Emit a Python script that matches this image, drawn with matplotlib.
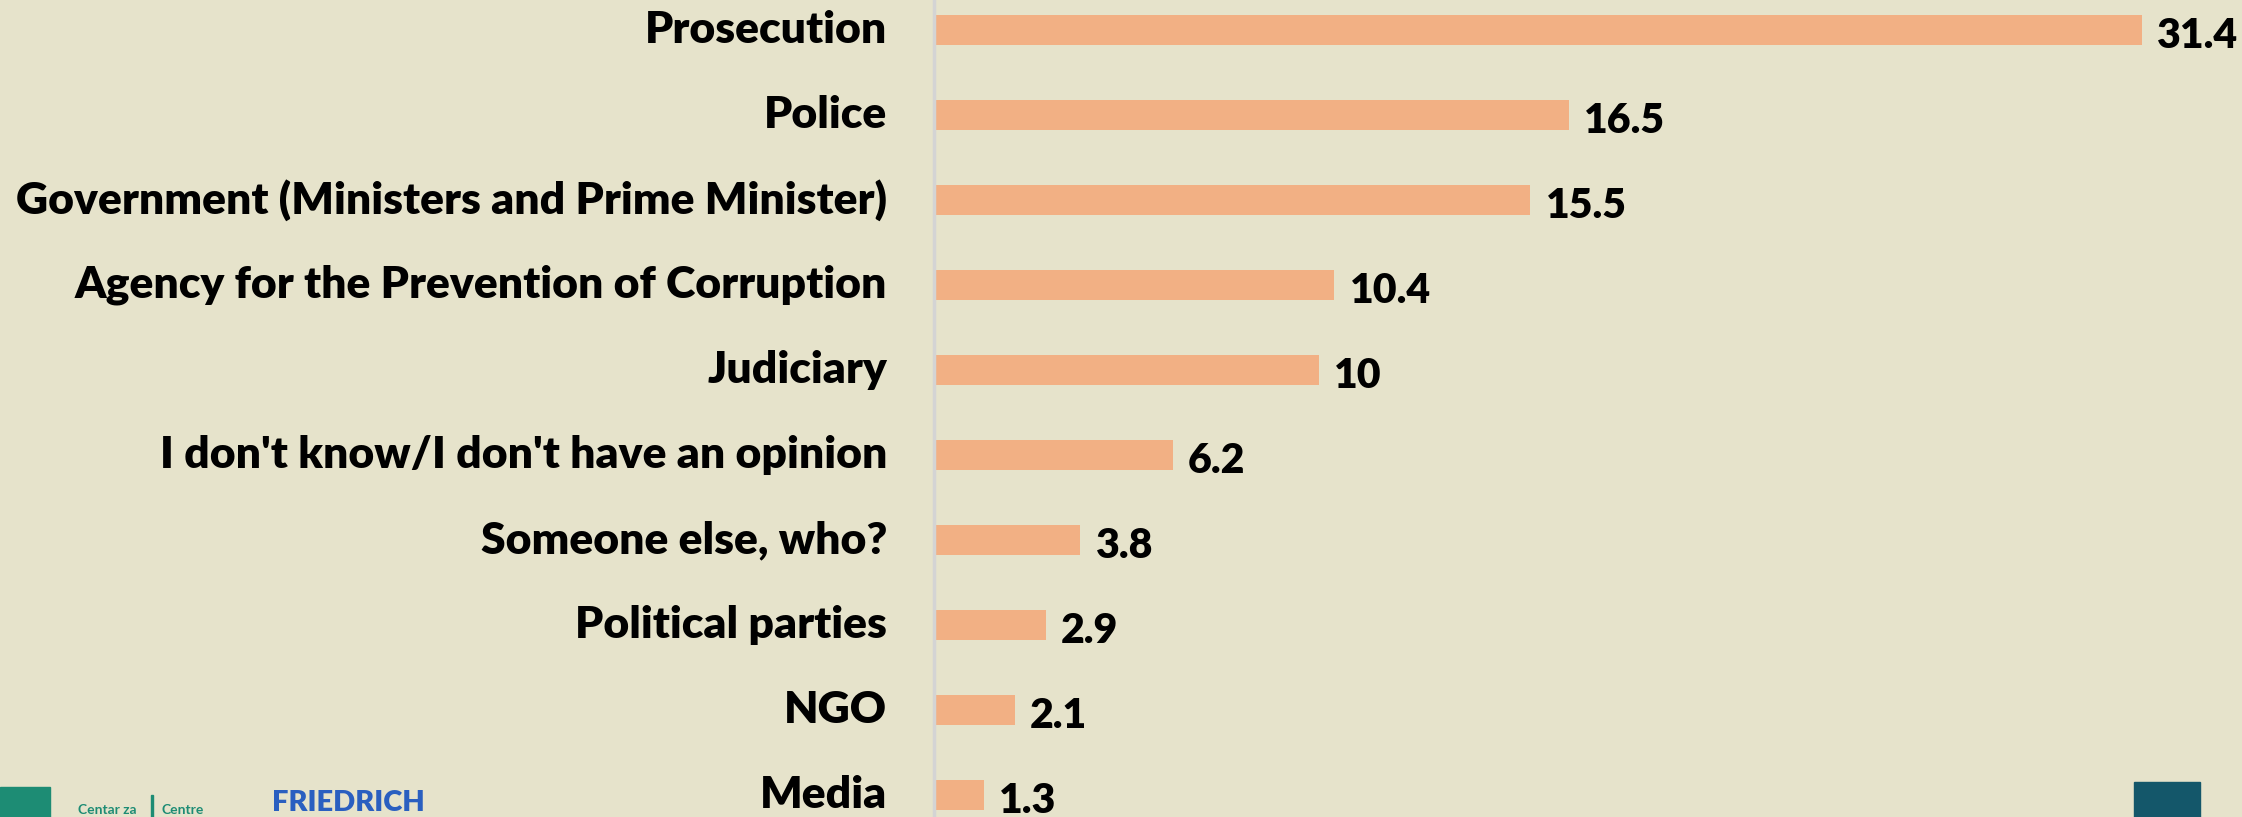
import matplotlib.pyplot as plt
from matplotlib.patches import Rectangle

# institutions and share of answers (%)
categories = ['Prosecution', 'Police', 'Government (Ministers and Prime Minister)',
              'Agency for the Prevention of Corruption', 'Judiciary',
              "I don't know/I don't have an opinion", 'Someone else, who?',
              'Political parties', 'NGO', 'Media']
values = [31.4, 16.5, 15.5, 10.4, 10, 6.2, 3.8, 2.9, 2.1, 1.3]
value_labels = ['31.4', '16.5', '15.5', '10.4', '10', '6.2', '3.8', '2.9', '2.1', '1.3']

bg = '#e6e3cb'
bar_color = '#f2b084'

plt.rcParams['font.family'] = ['Lato', 'DejaVu Sans']

fig = plt.figure(figsize=(22.42, 8.17), dpi=100, facecolor=bg)
ax = fig.add_axes([934 / 2242, 0, 1 - 934 / 2242, 1])
ax.set_facecolor(bg)

ypos = list(range(len(categories)))
ax.barh(ypos, values, height=0.35, color=bar_color)
ax.set_xlim(0, 34)
ax.set_ylim(9.26, -0.353)

for y, v, lab in zip(ypos, values, value_labels):
    ax.text(v + 0.4, y + 0.07, lab, va='center', ha='left', fontsize=29.5,
            fontweight='heavy', color='black')

for y, c in zip(ypos, categories):
    ax.text(-1.22, y, c, va='center', ha='right', fontsize=32,
            fontweight='heavy', color='black', clip_on=False)

for s in ['top', 'right', 'bottom']:
    ax.spines[s].set_visible(False)
ax.spines['left'].set_color('#d4d4d4')
ax.spines['left'].set_linewidth(2.5)
ax.set_xticks([])
ax.set_yticks([])

# partial logos at the bottom edge
fig.add_artist(Rectangle((0, 0), 50 / 2242, 30 / 817, transform=fig.transFigure,
                         color='#1d8c74'))
fig.text(78 / 2242, 0.004, 'Centar za', color='#1d8c74', fontsize=10, fontweight='bold')
fig.add_artist(Rectangle((151 / 2242, 0), 1.5 / 2242, 22 / 817, transform=fig.transFigure,
                         color='#1d8c74'))
fig.text(161 / 2242, 0.004, 'Centre', color='#1d8c74', fontsize=10, fontweight='bold')
fig.text(272 / 2242, 0.007, 'FRIEDRICH', color='#2a5fc0', fontsize=21, fontweight='heavy')
fig.add_artist(Rectangle((2134 / 2242, 0), 66 / 2242, 35 / 817, transform=fig.transFigure,
                         color='#14576a'))

fig.savefig('out.png', dpi=100, facecolor=bg)
